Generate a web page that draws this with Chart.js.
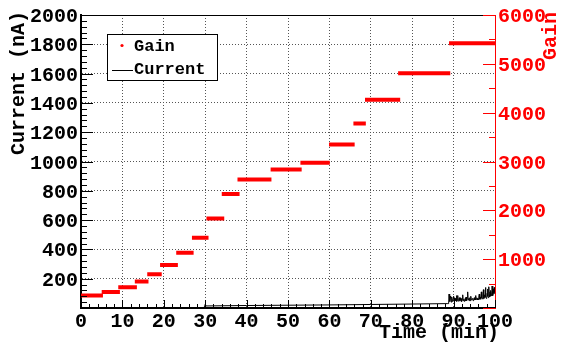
<!DOCTYPE html>
<html>
<head>
<meta charset="utf-8">
<script src="https://cdn.jsdelivr.net/npm/chart.js@4.4.0/dist/chart.umd.min.js"></script>
<style>
  html, body { margin: 0; padding: 0; background: #fff; }
  #chart { display: block; }
</style>
</head>
<body>
<canvas id="chart" width="561" height="345"></canvas>
<script>
// ===== Data =====
// gain plateaus (start / end in min, gain level)
const stepStart = [0, 5, 9, 13, 16, 19.1, 23, 26.8, 30.3, 34, 37.8, 45.8, 53, 59.9, 65.8, 68.6, 76.6, 88.9];
const stepEnd = [5.3, 9.4, 13.5, 16.3, 19.5, 23.4, 27.2, 30.8, 34.6, 38.3, 46, 53.3, 60.1, 66.1, 68.8, 77.1, 89.2, 100];
const gainLevels = [257, 330, 424, 545, 693, 883, 1131, 1440, 1832, 2337, 2632, 2834, 2976, 3347, 3778, 4263, 4808, 5420];

// current readout, nA
const currentTime = [0, 10, 20, 29, 29.8, 30, 30.2, 40, 50, 60, 70, 80, 88.6,
  88.8, 88.9, 89, 89.1, 89.2, 89.3, 89.4, 89.5, 89.6, 89.7, 89.8, 89.9, 90,
  90.1, 90.2, 90.3, 90.4, 90.5, 90.6, 90.7, 90.8, 90.9, 91,
  91.1, 91.2, 91.3, 91.4, 91.5, 91.6, 91.7, 91.8, 91.9, 92,
  92.1, 92.2, 92.3, 92.4, 92.5, 92.6, 92.7, 92.8, 92.9, 93,
  93.1, 93.2, 93.3, 93.4, 93.5, 93.6, 93.7, 93.8, 93.9, 94,
  94.1, 94.2, 94.3, 94.4, 94.5, 94.6, 94.7, 94.8, 94.9, 95,
  95.1, 95.2, 95.3, 95.4, 95.5, 95.6, 95.7, 95.8, 95.9, 96,
  96.1, 96.2, 96.3, 96.4, 96.5, 96.6, 96.7, 96.8, 96.9, 97,
  97.1, 97.2, 97.3, 97.4, 97.5, 97.6, 97.7, 97.8, 97.9, 98,
  98.1, 98.2, 98.3, 98.4, 98.5, 98.6, 98.7, 98.8, 98.9, 99,
  99.1, 99.2, 99.3, 99.4, 99.5, 99.6, 99.7, 99.8, 99.9, 100];
const currentValue = [2, 2, 3, 3, 4, 25, 14, 17, 19, 21, 24, 27, 30,
  30, 95, 60, 45, 80, 70, 40, 55, 75, 45, 50, 65, 80,
  45, 70, 55, 65, 50, 60, 85, 45, 55, 85,
  50, 45, 60, 70, 50, 55, 70, 45, 65, 45,
  60, 90, 50, 55, 60, 45, 55, 65, 50, 75,
  55, 50, 70, 110, 55, 60, 65, 50, 70, 50,
  60, 80, 55, 55, 60, 65, 50, 55, 60, 70,
  55, 60, 85, 55, 60, 70, 65, 55, 60, 55,
  70, 95, 60, 65, 75, 60, 110, 70, 65, 60,
  80, 125, 65, 70, 90, 75, 140, 80, 65, 70,
  100, 130, 80, 70, 145, 90, 75, 110, 80, 120,
  90, 85, 150, 95, 85, 130, 100, 140, 110, 95];

// axis ticks
const timeTicks = [0, 10, 20, 30, 40, 50, 60, 70, 80, 90, 100];
const currentTicks = [200, 400, 600, 800, 1000, 1200, 1400, 1600, 1800, 2000];
const gainTicks = [1000, 2000, 3000, 4000, 5000, 6000];

const FONT = "Liberation Mono";
const RED = "#ff0000";

// gain segments, broken by nulls
const gainPoints = [];
stepStart.forEach((s, i) => {
  gainPoints.push({ x: s, y: gainLevels[i] });
  gainPoints.push({ x: stepEnd[i], y: gainLevels[i] });
  gainPoints.push({ x: stepEnd[i], y: null });
});
const currentPoints = currentTime.map((t, i) => ({ x: t, y: currentValue[i] }));

const tickFont = { family: FONT, size: 20, weight: "bold" };
const plain = (v) => String(v);

// ===== ROOT-ish frame: inner ticks, titles, legend =====
const rootFrame = {
  id: "rootFrame",
  afterDraw(chart) {
    const { ctx, chartArea: a, scales } = chart;
    ctx.save();
    ctx.lineWidth = 1;

    // top frame
    ctx.strokeStyle = "#000";
    ctx.beginPath();
    ctx.moveTo(a.left, a.top + 0.5);
    ctx.lineTo(a.right, a.top + 0.5);
    ctx.stroke();

    // left ticks
    ctx.beginPath();
    for (let v = 0; v <= 2000; v += 40) {
      const py = Math.round(scales.y.getPixelForValue(v)) + 0.5;
      const len = v % 200 === 0 ? 12 : 6;
      ctx.moveTo(a.left, py);
      ctx.lineTo(a.left + len, py);
    }
    // bottom ticks
    for (let v = 0; v <= 100; v += 2) {
      const px = Math.round(scales.x.getPixelForValue(v)) + 0.5;
      const len = v % 10 === 0 ? 8 : 4;
      ctx.moveTo(px, a.bottom);
      ctx.lineTo(px, a.bottom - len);
    }
    ctx.stroke();

    // right ticks
    ctx.strokeStyle = RED;
    ctx.beginPath();
    for (let v = 0; v <= 6000; v += 500) {
      const py = Math.round(scales.y2.getPixelForValue(v)) + 0.5;
      const len = v % 1000 === 0 ? 12 : 6;
      ctx.moveTo(a.right, py);
      ctx.lineTo(a.right - len, py);
    }
    ctx.stroke();

    // axis titles
    ctx.font = "bold 20px " + FONT;
    ctx.textBaseline = "middle";
    ctx.fillStyle = "#000";
    ctx.textAlign = "right";
    ctx.fillText("Time (min)", 499, 333);

    ctx.save();
    ctx.translate(19, 11);
    ctx.rotate(-Math.PI / 2);
    ctx.fillText("Current (nA)", 0, 0);
    ctx.restore();

    ctx.save();
    ctx.fillStyle = RED;
    ctx.translate(551, 12);
    ctx.rotate(-Math.PI / 2);
    ctx.fillText("Gain", 0, 0);
    ctx.restore();

    // legend
    ctx.fillStyle = "#fff";
    ctx.fillRect(107.5, 34.5, 110, 46);
    ctx.strokeStyle = "#000";
    ctx.strokeRect(107.5, 34.5, 110, 46);
    ctx.font = "bold 17px " + FONT;
    ctx.textAlign = "left";
    ctx.fillStyle = "#000";
    const ds = chart.data.datasets;
    ctx.fillText(ds[0].label, 134, 46.5);
    ctx.fillText(ds[1].label, 134, 70);
    ctx.fillStyle = RED;
    ctx.beginPath();
    ctx.arc(122, 45.5, 1.6, 0, Math.PI * 2);
    ctx.fill();
    ctx.beginPath();
    ctx.moveTo(112, 70.5);
    ctx.lineTo(133, 70.5);
    ctx.stroke();
    ctx.restore();
  },
};

const gridColor = (edge) => (c) =>
  c.tick && edge.includes(c.tick.value) ? "rgba(0,0,0,0)" : "#555";

new Chart(document.getElementById("chart"), {
  type: "line",
  data: {
    datasets: [
      {
        label: "Gain",
        data: gainPoints,
        yAxisID: "y2",
        borderColor: RED,
        borderWidth: 4,
        borderCapStyle: "butt",
        pointRadius: 0,
        spanGaps: false,
      },
      {
        label: "Current",
        data: currentPoints,
        yAxisID: "y",
        borderColor: "#000",
        borderWidth: 1,
        pointRadius: 0,
      },
    ],
  },
  options: {
    responsive: false,
    animation: false,
    devicePixelRatio: 1,
    layout: { padding: { top: 11, left: 0, right: 0, bottom: 0 } },
    plugins: { legend: { display: false }, tooltip: { enabled: false } },
    scales: {
      x: {
        type: "linear",
        min: 0,
        max: 100,
        afterBuildTicks: (s) => { s.ticks = timeTicks.map((v) => ({ value: v })); },
        afterFit: (s) => { s.height = 37; },
        ticks: { font: tickFont, color: "#000", padding: 2, maxRotation: 0, callback: plain },
        grid: { drawTicks: false, color: gridColor([0, 100]), lineWidth: 1 },
        border: { color: "#000", width: 2, dash: [1, 2] },
      },
      y: {
        position: "left",
        min: 0,
        max: 2000,
        afterBuildTicks: (s) => { s.ticks = currentTicks.map((v) => ({ value: v })); },
        afterFit: (s) => { s.width = 81; },
        ticks: { font: tickFont, color: "#000", padding: 3, labelOffset: 2, callback: plain },
        grid: { drawTicks: false, color: gridColor([0, 2000]), lineWidth: 1 },
        border: { color: "#000", width: 2, dash: [1, 2] },
      },
      y2: {
        position: "right",
        min: 0,
        max: 6000,
        afterBuildTicks: (s) => { s.ticks = gainTicks.map((v) => ({ value: v })); },
        afterFit: (s) => { s.width = 66; },
        ticks: { font: tickFont, color: RED, padding: 3, labelOffset: 2, callback: plain },
        grid: { display: false, drawTicks: false },
        border: { color: RED, width: 1 },
      },
    },
  },
  plugins: [rootFrame],
});
</script>
</body>
</html>
